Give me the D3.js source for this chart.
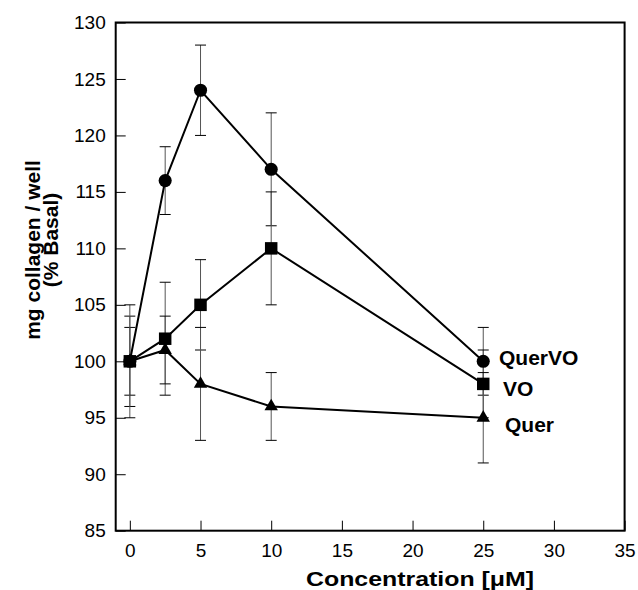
<!DOCTYPE html>
<html><head><meta charset="utf-8">
<script src="https://cdn.jsdelivr.net/npm/d3@7"></script>
<style>body{margin:0;background:#fff}svg{display:block}text{font-family:"Liberation Sans",Arial,sans-serif}</style>
</head><body>
<svg id="c" width="638" height="590"></svg>
<script>
const conc = [0, 2.5, 5, 10, 25];
const querVO = [100, 116, 124, 117, 100];
const querVOErr = [4, 3, 4, 5, 3];
const vo = [100, 102, 105, 110, 98];
const voErr = [3, 5, 4, 5, 3];
const quer = [100, 101, 98, 96, 95];
const querErr = [5, 3, 5, 3, 4];
const xTicks = [0, 5, 10, 15, 20, 25, 30, 35];
const yTicks = [85, 90, 95, 100, 105, 110, 115, 120, 125, 130];
const seriesNames = ["QuerVO", "VO", "Quer"];

const svg = d3.select("#c");
const x = d3.scaleLinear().domain([-1, 35]).range([115.7, 624.6]);
const y = d3.scaleLinear().domain([85, 130]).range([530.7, 22.5]);

const series = [
  {name: seriesNames[0], vals: querVO, err: querVOErr, sym: d3.symbolCircle, size: 135, lx: 499, ly: 365},
  {name: seriesNames[1], vals: vo, err: voErr, sym: d3.symbolSquare, size: 156, lx: 503, ly: 396},
  {name: seriesNames[2], vals: quer, err: querErr, sym: d3.symbolTriangle, size: 78, lx: 505, ly: 432}
];

// axes ticks (inward)
const gx = svg.append("g").attr("transform", `translate(0,${y(85)})`)
  .call(d3.axisBottom(x).tickValues(xTicks).tickSizeInner(-10).tickSizeOuter(0).tickPadding(14));
gx.select(".domain").remove();
gx.selectAll(".tick line").attr("stroke", "#000").attr("stroke-width", 1);
gx.selectAll(".tick text").attr("font-size", 19).attr("fill", "#000").attr("dy", "0.71em").attr("y", 13);

const gy = svg.append("g").attr("transform", `translate(${x(-1)},0)`)
  .call(d3.axisLeft(y).tickValues(yTicks).tickSizeInner(-10).tickSizeOuter(0).tickPadding(11));
gy.select(".domain").remove();
gy.selectAll(".tick line").attr("stroke", "#000").attr("stroke-width", 1);
gy.selectAll(".tick text").attr("font-size", 19).attr("fill", "#000").attr("x", -10);

// error bars
series.forEach(s => {
  const g = svg.append("g");
  conc.forEach((c, i) => {
    const cx = x(c), lo = y(s.vals[i] - s.err[i]), hi = y(s.vals[i] + s.err[i]);
    g.append("line").attr("x1", cx).attr("x2", cx).attr("y1", lo).attr("y2", hi)
      .attr("stroke", "#555").attr("stroke-width", 1);
    [lo, hi].forEach(yy => g.append("line").attr("x1", cx - 5.5).attr("x2", cx + 5.5)
      .attr("y1", yy).attr("y2", yy).attr("stroke", "#000").attr("stroke-width", 1));
  });
});

// lines and markers
series.forEach(s => {
  const line = d3.line().x((d, i) => x(conc[i])).y(d => y(d));
  svg.append("path").datum(s.vals).attr("d", line).attr("fill", "none")
    .attr("stroke", "#000").attr("stroke-width", 2);
});
series.forEach(s => {
  svg.append("g").selectAll("path").data(s.vals).join("path")
    .attr("transform", (d, i) => `translate(${x(conc[i])},${y(d)})`)
    .attr("d", d3.symbol().type(s.sym).size(s.size)).attr("fill", "#000");
  svg.append("text").attr("x", s.lx).attr("y", s.ly).attr("font-size", 21)
    .attr("font-weight", "bold").attr("fill", "#000").text(s.name);
});

// frame
svg.append("rect").attr("x", x(-1)).attr("y", y(130)).attr("width", x(35) - x(-1))
  .attr("height", y(85) - y(130)).attr("fill", "none").attr("stroke", "#000").attr("stroke-width", 2);

// axis titles
svg.append("text").attr("x", 420).attr("y", 586).attr("text-anchor", "middle")
  .attr("font-size", 21).attr("font-weight", "bold").attr("textLength", 228)
  .attr("lengthAdjust", "spacingAndGlyphs").text("Concentration [\u03BCM]");
svg.append("text").attr("transform", "translate(40,250) rotate(-90)").attr("text-anchor", "middle")
  .attr("font-size", 21).attr("font-weight", "bold").text("mg collagen / well");
svg.append("text").attr("transform", "translate(58,240) rotate(-90)").attr("text-anchor", "middle")
  .attr("font-size", 21).attr("font-weight", "bold").text("(% Basal)");
</script>
</body></html>
